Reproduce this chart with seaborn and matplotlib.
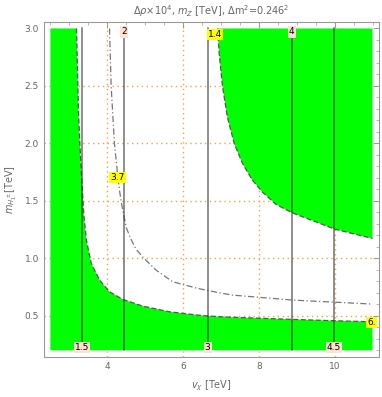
import numpy as np
import pandas as pd
import matplotlib
matplotlib.use("Agg")
import matplotlib.pyplot as plt
import seaborn as sns
from matplotlib.ticker import MultipleLocator

# ---- data ----
# Delta rho = 6 contour (lower-left green boundary)
low_v = [3.19, 3.245, 3.30, 3.33, 3.38, 3.45, 3.58, 3.80, 4.06, 4.41, 4.94, 5.64, 6.39, 6.95, 7.9, 8.88, 9.98, 11.0]
low_m = [3.0, 2.245, 1.85, 1.68, 1.39, 1.158, 0.955, 0.81, 0.709, 0.643, 0.584, 0.535, 0.506, 0.492, 0.48, 0.469, 0.457, 0.448]
# Delta rho = 1.4 contour (upper-right green boundary)
up_v = [6.91, 6.955, 7.04, 7.17, 7.35, 7.57, 7.83, 8.10, 8.45, 8.88, 9.5, 10.0, 11.0]
up_m = [3.0, 2.78, 2.5, 2.23, 2.0, 1.825, 1.68, 1.575, 1.47, 1.396, 1.318, 1.254, 1.173]
# Delta rho = 3.7 contour (dash-dot)
mid_v = [4.06, 4.105, 4.19, 4.28, 4.33, 4.37, 4.50, 4.62, 4.76, 4.94, 5.29, 5.73, 6.39, 6.955, 7.31, 8.88, 11.0]
mid_m = [3.0, 2.49, 2.0, 1.71, 1.58, 1.49, 1.27, 1.17, 1.08, 1.01, 0.897, 0.796, 0.738, 0.70, 0.68, 0.637, 0.602]
# m_Z contours (vertical lines)
mz_labels = ["1.5", "2", "3", "4", "4.5"]
mz_vchi = [3.33, 4.45, 6.65, 8.87, 9.98]
mz_label_m = [0.225, 2.97, 0.225, 2.97, 0.225]
# Delta rho labels
dr_labels = ["1.4", "3.7", "6."]
dr_label_v = [6.85, 4.27, 10.97]
dr_label_m = [2.95, 1.706, 0.445]

vmin, vmax = 2.5, 11.0
mmin, mmax = 0.2, 3.0

sns.set_theme(style="white")
plt.rcParams['font.family'] = ['DejaVu Sans']

fig = plt.figure(figsize=(3.82, 3.97), dpi=100)
ax = fig.add_axes([0.115, 0.1015, 0.877, 0.843])

# grid (under the fill)
for gx in [4, 6, 8, 10]:
    ax.axvline(gx, color="#F5A04A", ls=(0, (1, 2.5)), lw=1.0, zorder=0.5)
for gy in [0.5, 1.0, 1.5, 2.0, 2.5]:
    ax.axhline(gy, color="#F5A04A", ls=(0, (1, 2.5)), lw=1.0, zorder=0.5)

green = "#00FF00"
# lower-left region
poly_v = [vmin] + low_v + [vmax, vmin]
poly_m = [mmax] + low_m + [mmin, mmin]
ax.fill(poly_v, poly_m, color=green, lw=0, zorder=1)
# upper-right region
poly_v2 = up_v + [vmax]
poly_m2 = up_m + [mmax]
ax.fill(poly_v2, poly_m2, color=green, lw=0, zorder=1)

df_low = pd.DataFrame({"v": low_v, "m": low_m})
df_up = pd.DataFrame({"v": up_v, "m": up_m})
df_mid = pd.DataFrame({"v": mid_v, "m": mid_m})
sns.lineplot(data=df_low, x="v", y="m", sort=False, ax=ax, color="#555555",
             lw=0.9, ls=(0, (4, 2)), zorder=2, estimator=None)
sns.lineplot(data=df_up, x="v", y="m", sort=False, ax=ax, color="#555555",
             lw=0.9, ls=(0, (4, 2)), zorder=2, estimator=None)
sns.lineplot(data=df_mid, x="v", y="m", sort=False, ax=ax, color="#777777",
             lw=0.9, ls=(0, (5, 2, 1, 2)), zorder=2, estimator=None)

for v in mz_vchi:
    ax.plot([v, v], [mmin, mmax], color="#333333", alpha=0.55, lw=1.4, zorder=2)

for lab, v, m in zip(mz_labels, mz_vchi, mz_label_m):
    ax.text(v, m, lab, ha="center", va="center", fontsize=6.5, color="black", zorder=4,
            bbox=dict(boxstyle="square,pad=0.12", fc="#FBE3CF", ec="none"))
for lab, v, m in zip(dr_labels, dr_label_v, dr_label_m):
    ax.text(v, m, lab, ha="center", va="center", fontsize=6.5, color="black", zorder=4,
            bbox=dict(boxstyle="square,pad=0.12", fc="#FFFF00", ec="none"))

ax.set_xlim(2.33, 11.17)
ax.set_ylim(0.144, 3.056)
ax.xaxis.set_major_locator(MultipleLocator(2))
ax.xaxis.set_minor_locator(MultipleLocator(0.5))
ax.yaxis.set_major_locator(MultipleLocator(0.5))
ax.yaxis.set_minor_locator(MultipleLocator(0.1))
ax.tick_params(which="both", direction="in", top=True, right=True, color="#999999",
               labelsize=6.5, labelcolor="#666666")
ax.tick_params(which="major", length=4, width=0.7)
ax.tick_params(which="minor", length=2, width=0.5)
ax.set_xticks([4, 6, 8, 10])
ax.set_yticks([0.5, 1.0, 1.5, 2.0, 2.5, 3.0])
ax.set_yticklabels(["0.5", "1.0", "1.5", "2.0", "2.5", "3.0"])
for s in ax.spines.values():
    s.set_color("#999999")
    s.set_linewidth(0.8)

ax.set_xlabel(r"$v_\chi$ [TeV]", fontsize=7, color="#666666", labelpad=6)
ax.set_ylabel(r"$m_{H_1^\pm}$[TeV]", fontsize=7, color="#666666", labelpad=4)
ax.set_title(r"$\Delta\rho{\times}10^4$, $m_Z$ [TeV], $\Delta$m$^2$=0.246$^2$",
             fontsize=7, color="#666666", pad=5)

fig.savefig("out.png", dpi=100)
